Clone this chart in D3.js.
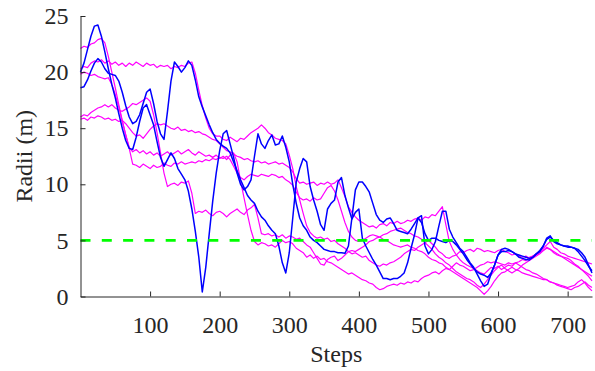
<!DOCTYPE html>
<html>
<head>
<meta charset="utf-8">
<script src="https://cdn.jsdelivr.net/npm/d3@7"></script>
<style>
  body { margin: 0; background: #fff; }
  svg { display: block; }
  .axis text { font-family: "Times New Roman", Times, "Liberation Serif", serif; font-size: 24px; fill: #262626; }
  .axis path, .axis line { stroke: #262626; stroke-width: 1; }
  .label { font-family: "Times New Roman", Times, "Liberation Serif", serif; font-size: 24px; fill: #262626; }
</style>
</head>
<body>
<div id="chart"></div>
<script>
// sampling grid (steps), every 5 steps
const steps = d3.range(0, 736, 5);

const xTicks = [100, 200, 300, 400, 500, 600, 700];
const yTicks = [0, 5, 10, 15, 20, 25];
const threshold = 5;

// blue runs
const blueA = [
  20.0, 20.8, 22.0, 23.2, 24.1, 24.2, 23.2, 21.8, 20.3, 18.9,
  17.7, 16.3, 15.0, 13.9, 13.2, 13.1, 14.2, 15.6, 16.8, 17.1,
  16.2, 15.3, 13.8, 12.4, 11.6, 12.2, 12.8, 12.3, 11.4, 10.9,
  10.4, 9.4, 7.8, 5.8, 3.5, 0.4, 2.6, 5.6, 8.5, 11.0,
  13.0, 14.5, 14.8, 13.6, 12.4, 11.0, 10.0, 9.5, 9.8, 10.4,
  12.5, 14.5, 13.6, 13.2, 13.9, 14.4, 13.5, 13.6, 14.3, 13.3,
  12.0, 10.0, 8.3, 7.0, 6.3, 5.9, 5.3, 5.0, 4.8, 4.5,
  4.2, 4.1, 4.0, 4.0, 3.9, 3.9, 3.85, 4.5, 7.0, 9.5,
  10.2, 10.2, 9.8, 9.3, 8.3, 7.3, 6.8, 6.6, 6.9, 7.0,
  6.5, 5.9, 5.8, 5.7, 5.6, 6.0, 6.5, 7.0, 6.6, 5.6,
  5.0, 5.2, 5.2, 5.0, 4.9, 4.8, 5.0, 4.9, 4.6, 4.2,
  3.8, 3.3, 2.9, 2.5, 2.2, 2.0, 1.9, 1.7, 2.1, 2.8,
  3.7, 4.0, 4.0, 4.1, 4.0, 3.8, 3.7, 3.6, 3.5, 3.4,
  3.5, 3.8, 4.0, 4.5, 5.1, 5.3, 5.0, 4.8, 4.6, 4.5,
  4.4, 4.4, 4.3, 4.2, 3.9, 3.5, 2.8, 2.1
];
const blueB = [
  18.6, 18.7, 19.3, 20.1, 20.8, 21.2, 20.9, 20.3, 19.9, 19.8,
  19.7, 19.2, 18.2, 17.0, 16.0, 15.4, 15.6, 16.2, 17.2, 18.2,
  18.5, 17.2, 15.6, 14.5, 14.0, 16.5, 19.2, 20.9, 20.5, 20.0,
  20.4, 21.0, 20.6, 19.3, 17.8, 16.9, 16.1, 15.3, 14.6, 14.0,
  13.65, 13.4, 13.2, 12.8, 12.0, 11.2, 10.4, 9.7, 9.0, 8.6,
  8.3, 7.6, 7.1, 6.8, 6.3, 5.9, 5.6, 4.5, 3.0, 2.1,
  3.9, 7.0, 10.2, 11.4, 12.3, 12.0, 9.8, 8.6, 7.6, 6.4,
  5.9, 7.8, 8.3, 8.6, 10.2, 10.6, 9.0, 7.9, 6.9, 7.5,
  7.8, 5.2, 4.5, 3.9, 3.3, 2.8, 2.2, 1.6, 1.6, 1.5,
  1.6, 1.6, 1.8, 2.1, 3.0, 4.3, 5.5, 7.0, 7.2, 4.5,
  3.8, 4.2, 4.9, 6.3, 7.6, 7.6, 6.0, 5.3, 4.8, 4.3,
  4.0, 3.5, 3.0, 2.6, 2.0, 1.4, 0.9, 1.1, 2.0, 2.8,
  3.7, 4.2, 4.3, 4.2, 4.0, 3.8, 3.5, 3.4, 3.3, 3.25,
  3.5, 3.8, 4.1, 4.5, 5.2, 5.4, 4.9, 4.7, 4.6, 4.5,
  4.5, 4.4, 4.3, 4.0, 3.6, 3.2, 2.7, 2.3
];

// magenta runs
const magentaA = [
  22.1, 22.3, 22.2, 22.5, 22.6, 22.9, 23.0, 22.6, 21.4, 20.0,
  18.6, 17.1, 15.7, 14.4, 13.2, 11.8, 11.7, 11.5, 11.8, 11.6,
  11.4, 11.7, 11.5, 11.6, 11.9, 11.7, 11.6, 11.9, 11.8, 12.0,
  11.8, 11.9, 12.0, 11.9, 12.1, 12.0, 12.2, 12.1, 12.3, 12.2,
  12.4, 12.3, 12.5, 12.2, 11.6, 11.0, 10.6, 10.4, 10.7, 10.9,
  10.8, 10.7, 10.9, 10.8, 10.7, 10.9, 10.8, 10.6, 10.7, 10.4,
  10.2, 9.9, 9.3, 8.8, 8.6, 8.7, 8.5, 8.8, 8.6, 8.7,
  9.2, 9.7, 9.9, 9.4, 8.6, 7.6, 6.6, 5.8, 5.3, 5.0,
  4.9, 5.0, 5.2, 5.4, 5.5, 5.4, 5.3, 5.1, 5.0, 4.8,
  4.6, 4.5, 4.4, 4.5, 4.6, 4.4, 4.3, 4.1, 4.0, 3.8,
  3.5, 3.3, 3.2, 3.0, 2.9, 2.6, 2.4, 2.2, 2.0, 1.8,
  1.6, 1.4, 1.2, 1.0, 0.8, 0.5, 0.2, 0.5, 0.9, 1.4,
  1.8, 2.1, 2.2, 2.4, 2.6, 2.4, 2.3, 2.1, 2.0, 1.9,
  1.8, 1.7, 1.6, 1.5, 1.5, 1.3, 1.2, 1.1, 1.0, 0.9,
  0.8, 0.9, 1.0, 1.3, 1.5, 1.2, 0.8, 0.5
];
const magentaB = [
  20.3, 20.5, 20.4, 20.8, 21.0, 20.9, 21.1, 20.8, 21.0, 20.7,
  20.9, 20.6, 20.8, 20.5, 20.8, 20.6, 20.9, 20.7, 20.5, 20.8,
  20.6, 20.7, 20.4, 20.6, 20.5, 20.6, 20.3, 20.5, 20.4, 20.6,
  20.5, 20.8, 20.9, 19.9, 18.4, 17.0, 15.9, 15.0, 14.5, 14.3,
  14.3, 14.0, 13.9, 14.2, 14.0, 13.8, 14.1, 14.0, 14.3, 14.6,
  14.8, 15.0, 15.3, 15.0, 14.6, 14.4, 14.1, 14.0, 13.9, 13.6,
  12.6, 11.4, 9.8, 8.6, 7.4, 6.3, 5.7, 5.4, 5.2, 5.3,
  5.1, 5.2, 4.9, 5.0, 4.7, 4.5, 4.3, 4.0, 3.8, 3.9,
  3.7, 3.5, 3.6, 3.2, 3.0, 2.8, 2.7, 2.9, 2.8, 3.0,
  3.1, 3.3, 3.5, 3.8, 4.0, 4.2, 4.1, 4.4, 4.6, 4.8,
  5.0, 4.7, 4.4, 4.0, 3.8, 3.5, 3.4, 3.6, 3.7, 4.0,
  3.9, 4.1, 4.2, 4.0, 4.3, 4.2, 4.0, 4.1, 4.0, 3.9,
  4.1, 4.2, 4.0, 3.9, 3.7, 3.8, 3.6, 3.5, 3.6, 3.4,
  3.6, 3.7, 3.9, 4.1, 4.3, 4.2, 4.0, 3.8, 3.6, 3.4,
  3.2, 3.0, 2.8, 2.6, 2.4, 2.1, 1.8, 1.4
];
const magentaC = [
  19.8, 20.0, 19.9, 19.7, 19.8, 19.6, 19.5, 19.4, 19.5, 18.9,
  18.0, 16.9, 15.6, 14.4, 13.3, 12.9, 13.1, 12.8, 13.0, 12.7,
  12.9, 12.6, 12.8, 12.5, 12.7, 12.9, 12.6, 12.8, 13.0, 12.7,
  12.9, 13.1, 12.8, 12.6, 12.9, 12.7, 12.5, 12.6, 12.4, 12.6,
  12.3, 12.5, 12.2, 12.6, 12.8, 12.0, 10.3, 8.8, 7.3, 5.9,
  4.9, 4.6, 4.8, 4.7, 4.5, 4.6, 4.4, 4.7, 5.0, 4.8,
  4.9, 4.7, 4.3, 4.1, 3.9, 3.5, 3.7, 3.4, 3.6, 3.3,
  3.4, 3.1, 3.0, 2.8, 2.6, 2.4, 2.2, 2.0, 2.1, 1.9,
  1.7, 1.5, 1.4, 1.2, 1.1, 0.8, 0.6, 0.7, 0.9, 1.0,
  1.1, 1.0, 1.2, 1.1, 1.3, 1.2, 1.4, 1.3, 1.6, 1.8,
  1.9, 2.1, 2.2, 2.0, 2.3, 2.5, 2.4, 2.7, 3.0, 2.8,
  2.7, 2.5, 2.3, 2.4, 2.6, 2.8, 2.9, 3.1, 3.0, 3.1,
  3.0, 2.9, 2.8, 3.0, 2.9, 3.0, 2.8, 2.6, 2.4, 2.3,
  2.1, 2.0, 1.8, 1.6, 1.5, 1.3, 1.2, 1.0, 0.9, 0.8,
  0.7, 0.6, 0.8, 0.9, 1.1, 1.3, 1.0, 0.8
];
const magentaD = [
  16.0, 16.2, 16.1, 16.4, 16.6, 16.8, 16.9, 17.1, 16.9, 17.1,
  16.8, 16.6, 16.5, 16.7, 16.9, 17.2, 17.1, 17.3, 17.5, 17.7,
  17.4, 16.2, 14.6, 12.8, 11.0, 9.8, 10.0, 10.1, 9.9, 10.2,
  10.1, 10.3, 9.2, 7.4, 7.6, 7.5, 7.7, 7.4, 7.2, 7.5,
  7.6, 7.4, 7.1, 7.4, 7.6, 7.8, 7.5, 7.3, 7.7, 7.9,
  8.2, 7.0, 5.6, 5.5, 5.6, 5.4, 5.5, 5.3, 5.5, 5.2,
  5.4, 5.3, 5.1, 5.2, 4.9, 4.6, 4.4, 3.9, 3.4, 2.9,
  2.8, 3.3, 3.5, 3.6, 3.2, 3.4, 3.7, 4.0, 4.1, 4.0,
  4.2, 4.4, 4.6, 4.9, 5.0, 5.2, 5.3, 5.5, 5.6, 5.8,
  5.9, 6.0, 6.1, 5.9, 5.7, 5.6, 5.4, 5.3, 5.1, 4.8,
  4.5, 4.2, 3.8, 3.5, 3.3, 3.0, 2.8, 2.5, 2.2, 2.0,
  1.8, 1.6, 1.5, 1.3, 1.0, 0.8, 1.1, 1.5, 1.9, 2.3,
  2.6, 2.8, 2.5, 2.3, 2.1, 2.3, 2.5, 2.8, 3.0, 3.2,
  3.4, 3.6, 3.8, 4.1, 4.4, 4.2, 3.9, 3.7, 3.6, 3.5,
  3.4, 3.2, 2.9, 2.7, 2.4, 2.2, 2.0, 1.8
];
const magentaE = [
  15.8, 15.9, 15.7, 16.0, 15.9, 16.1, 16.0, 15.8, 15.9, 15.7,
  15.8, 15.6, 15.7, 15.4, 15.0, 14.6, 14.3, 14.4, 14.1, 14.5,
  14.9, 15.2, 15.4, 15.3, 15.4, 15.2, 15.0, 14.9, 15.1, 14.8,
  14.9, 14.7, 14.8, 14.6, 14.7, 14.5, 14.4, 14.2, 14.0, 13.9,
  13.6, 13.3, 13.0, 12.9, 12.7, 12.5, 12.4, 12.2, 12.3, 12.1,
  12.0, 12.1, 11.9, 12.0, 11.8, 11.9, 12.0, 11.8, 11.9, 11.7,
  11.5, 11.1, 10.5, 10.1, 10.2, 10.0, 10.1, 10.2, 9.9, 10.1,
  10.0, 10.2, 10.0, 10.1, 10.4, 9.7, 8.9, 8.0, 7.5, 7.1,
  6.8, 6.6, 6.4, 6.2, 6.3, 6.1, 6.4, 6.5, 6.3, 6.6,
  6.5, 6.7, 6.5, 6.6, 6.8, 6.7, 6.9, 7.0, 6.8, 7.1,
  7.0, 7.3, 7.2, 7.6, 8.0, 6.4, 4.9, 4.2, 3.7, 3.3,
  3.0, 2.8, 2.65, 2.5, 2.3, 2.1, 2.0, 2.3, 2.6, 2.5,
  2.7, 2.4, 2.6, 2.8, 2.7, 3.0, 3.1, 3.3, 3.2, 3.5,
  3.6, 3.8, 4.0, 4.3, 4.6, 4.9, 4.4, 4.2, 3.9, 3.8,
  3.6, 3.5, 3.4, 3.3, 3.2, 3.1, 3.0, 2.9
];

const magentaRuns = [magentaA, magentaB, magentaC, magentaD, magentaE];
const blueRuns = [blueA, blueB];

const W = 595, H = 371;
const margin = { top: 16, right: 3, bottom: 74.5, left: 80.5 };
const width = W - margin.left - margin.right;
const height = H - margin.top - margin.bottom;

const svg = d3.select('#chart')
  .append('svg')
  .attr('width', W)
  .attr('height', H);

const g = svg.append('g')
  .attr('transform', `translate(${margin.left}, ${margin.top})`);

const x = d3.scaleLinear()
  .domain([0, 735])
  .range([0, width]);

const y = d3.scaleLinear()
  .domain([0, 25])
  .range([height, 0]);

const line = d3.line()
  .x((d, i) => x(steps[i]))
  .y(d => y(d));

// runs
g.selectAll('path.magenta')
  .data(magentaRuns)
  .enter().append('path')
  .attr('class', 'magenta')
  .attr('d', line)
  .attr('fill', 'none')
  .attr('stroke', '#ff00ff')
  .attr('stroke-width', 1.2)
  .attr('stroke-linejoin', 'round');

g.selectAll('path.blue')
  .data(blueRuns)
  .enter().append('path')
  .attr('class', 'blue')
  .attr('d', line)
  .attr('fill', 'none')
  .attr('stroke', '#0000ff')
  .attr('stroke-width', 1.5)
  .attr('stroke-linejoin', 'round');

// threshold line
g.append('line')
  .attr('x1', x(0))
  .attr('x2', x(735))
  .attr('y1', y(threshold))
  .attr('y2', y(threshold))
  .attr('stroke', '#00ff00')
  .attr('stroke-width', 2.6)
  .attr('stroke-dasharray', '10,11.3');

// axes
g.append('g')
  .attr('class', 'x axis')
  .attr('transform', `translate(0, ${height})`)
  .call(d3.axisBottom(x).tickValues(xTicks).tickSize(-5).tickSizeOuter(0).tickPadding(19));

g.append('g')
  .attr('class', 'y axis')
  .call(d3.axisLeft(y).tickValues(yTicks).tickSize(-5).tickSizeOuter(0).tickPadding(12));

// labels
svg.append('text')
  .attr('class', 'label')
  .attr('x', margin.left + width / 2)
  .attr('y', 362)
  .attr('text-anchor', 'middle')
  .text('Steps');

svg.append('text')
  .attr('class', 'label')
  .attr('transform', `translate(31.5, ${margin.top + height / 2}) rotate(-90)`)
  .attr('text-anchor', 'middle')
  .text('Radii (m)');
</script>
</body>
</html>
